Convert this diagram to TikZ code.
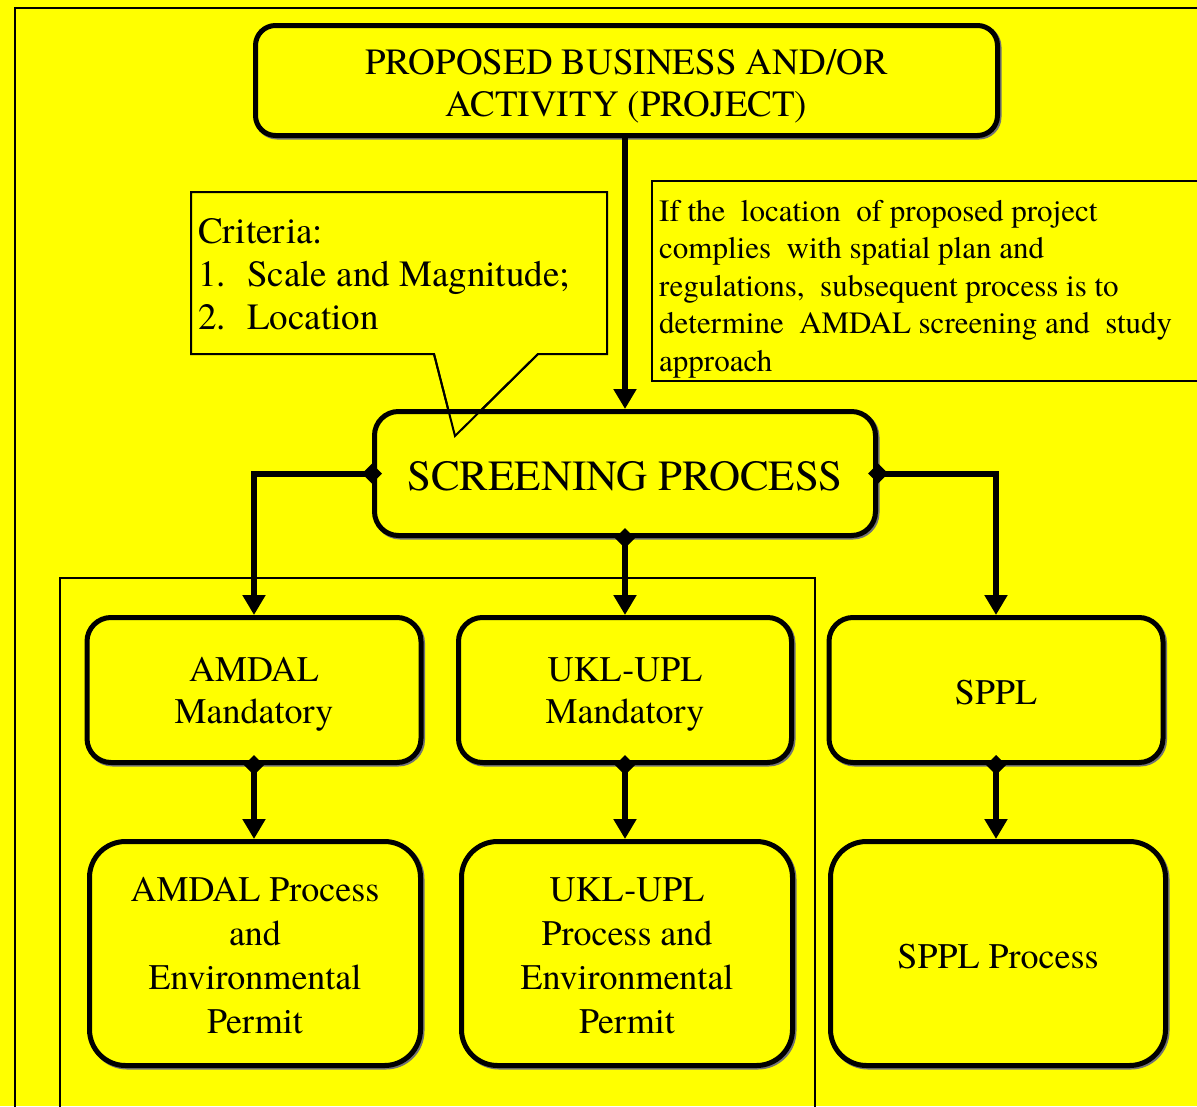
\documentclass[tikz,border=0pt]{standalone}
\usepackage{fontspec}
\IfFontExistsTF{TeX Gyre Termes}
  {\setmainfont{TeX Gyre Termes}}
  {\setmainfont{Liberation Serif}}
\usetikzlibrary{arrows.meta}
\definecolor{yel}{RGB}{255,255,0}
\newcommand\myfs[2]{\fontsize{#1}{#2}\selectfont}
\begin{document}
\begin{tikzpicture}[x=1pt,y=-1pt,
  rbox/.style={draw=black, line width=5pt, fill=yel, inner sep=0pt,
    preaction={draw=black!55, line width=5pt, transform canvas={shift={(1.5pt,-1.5pt)}}}},
  txt/.style={align=center, inner sep=0pt},
  thinline/.style={draw=black, line width=2pt},
  lnk/.style={line width=6pt, draw=black},
  dtip/.style={{Diamond[width=20pt,length=20pt]}-{Triangle[width=22pt,length=20pt]}},
  ttip/.style={-{Triangle[width=22pt,length=20pt]}},
  crit/.style={anchor=base west, inner sep=0pt, font=\myfs{37}{44}},
  note/.style={anchor=base west, inner sep=0pt, font=\myfs{31}{37.5}},
]
\fill[yel] (0,0) rectangle (1197,1106);
\useasboundingbox (0,0) rectangle (1197,1106);
\begin{scope}
  \clip (0,0) rectangle (1197,1106);
  \draw[thinline] (15,8) rectangle (1240,1140);
  \draw[thinline] (60,578) rectangle (815,1140);
  \draw[thinline, line width=2.2pt] (652,181) rectangle (1240,381);
\end{scope}

% note text
\node[note] (n1) at (659,221) {If the\ \ location\ \ of proposed project};
\node[note] (n2) at (659,258.5) {complies\ \ with spatial plan and};
\node[note] (n3) at (659,296) {regulations,\ \ subsequent process is to};
\node[note] (n4) at (659,333.5) {determine\ \ AMDAL screening and\ \ study};
\node[note] (n5) at (659,371) {approach};

% callout
\draw[thinline, fill=yel] (191,192) -- (607,192) -- (607,354) -- (538,354) -- (455,436) -- (434,354) -- (191,354) -- cycle;
\node[crit] (c1) at (198,243) {Criteria:};
\node[crit] (c2) at (198,286) {\makebox[49pt][l]{1.}Scale and Magnitude;};
\node[crit] (c3) at (198,329) {\makebox[49pt][l]{2.}Location};

% boxes
\node[rbox, rounded corners=20pt, minimum width=742pt, minimum height=110pt] (top) at (626.5,80.5) {};
\node[txt, font=\myfs{37}{42}] (topt) at ([yshift=-6pt]top.center) {PROPOSED BUSINESS AND/OR\\ACTIVITY (PROJECT)};

\node[rbox, rounded corners=24pt, minimum width=501pt, minimum height=124pt] (scr) at (625,473.5) {};
\node[txt, font=\myfs{43}{48}] (scrt) at ([yshift=-3pt]scr.center) {SCREENING PROCESS};

\draw[thinline] (434,354) -- (455,436) -- (538,354);

\node[rbox, rounded corners=24pt, minimum width=334pt, minimum height=145pt] (am) at (254,690) {};
\node[txt, font=\myfs{36}{42}] (amt) at ([yshift=-4pt]am.center) {AMDAL\\Mandatory};
\node[rbox, rounded corners=24pt, minimum width=333pt, minimum height=145pt] (um) at (625,690) {};
\node[txt, font=\myfs{36}{42}] (umt) at ([yshift=-4pt]um.center) {UKL-UPL\\Mandatory};
\node[rbox, rounded corners=24pt, minimum width=334pt, minimum height=145pt] (sm) at (996,690) {};
\node[txt, font=\myfs{36}{42}] (smt) at ([yshift=-3pt]sm.center) {SPPL};

\node[rbox, rounded corners=36pt, minimum width=331pt, minimum height=224pt] (ap) at (255,953.5) {};
\node[txt, font=\myfs{36}{44}] (apt) at ([yshift=-2pt]ap.center) {AMDAL Process\\and\\Environmental\\Permit};
\node[rbox, rounded corners=36pt, minimum width=331pt, minimum height=224pt] (up) at (627,953.5) {};
\node[txt, font=\myfs{36}{44}] (upt) at ([yshift=-2pt]up.center) {UKL-UPL\\Process and\\Environmental\\Permit};
\node[rbox, rounded corners=36pt, minimum width=335pt, minimum height=224pt] (sp) at (998,953.5) {};
\node[txt, font=\myfs{36}{44}] (spt) at ([yshift=-3pt]sp.center) {SPPL Process};

% connectors
\draw[lnk, ttip] (scr.north |- top.south) -- (scr.north);
\draw[lnk, dtip] ([xshift=10pt]scr.west) -| (am.north);
\draw[lnk, dtip] ([xshift=-10pt]scr.east) -| (sm.north);
\draw[lnk, dtip] ([yshift=10pt]scr.south) -- (um.north);
\draw[lnk, dtip] ([yshift=10pt]am.south) -- (am.south |- ap.north);
\draw[lnk, dtip] ([yshift=10pt]um.south) -- (um.south |- up.north);
\draw[lnk, dtip] ([yshift=10pt]sm.south) -- (sm.south |- sp.north);
\end{tikzpicture}
\end{document}
